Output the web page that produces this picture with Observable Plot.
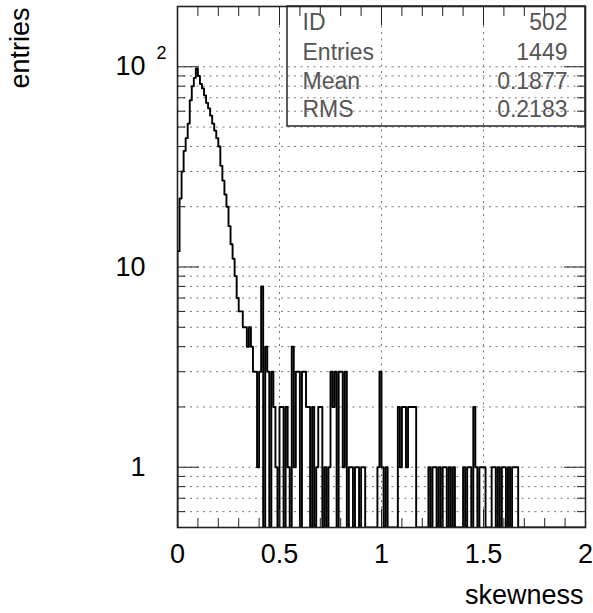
<!DOCTYPE html>
<html><head><meta charset="utf-8">
<script src="https://cdn.jsdelivr.net/npm/d3@7"></script>
<script src="https://cdn.jsdelivr.net/npm/@observablehq/plot@0.6"></script>
<style>body{margin:0;background:#fff}</style>
</head><body><div id="chart"></div>
<script>
// ---- data ----
const binStart = 0;
const binWidth = 0.01;
const counts = [
  12,22,30,38,44,52,68,80,88,98,
  90,82,78,72,66,62,57,52,48,44,
  40,32,27,23,20,16,13,11,9,7,
  6,6,5,5,4,5,4,3,3,1,
  3,8,0,4,3,0,3,2,1,0,
  2,2,0,2,1,0,4,1,3,3,
  0,3,3,2,2,0,2,0,1,2,
  2,0,1,0,1,3,2,3,0,3,
  3,1,3,0,1,1,0,1,1,0,
  1,1,0,0,0,0,0,0,1,3,
  1,0,1,0,0,0,0,0,2,1,
  2,2,1,2,2,2,2,0,0,0,
  0,0,0,1,0,1,1,0,1,0,
  1,1,0,1,0,1,0,0,0,0,
  1,0,1,1,0,2,1,0,1,1,
  1,0,0,0,1,1,0,1,0,1,
  1,0,1,0,1,1,1,0,0,0,
  0,0,0,0,0,0,0,0,0,0,
  0,0,0,0,0,0,0,0,0,0,
  0,0,0,0,0,0,0,0,0,0
];
const statLabels = ["ID", "Entries", "Mean", "RMS"];
const statValues = ["502", "1449", "0.1877", "0.2183"];
const xTickLabels = [0, 0.5, 1, 1.5, 2];
const xMinorTicks = [0.1,0.2,0.3,0.4,0.6,0.7,0.8,0.9,1.1,1.2,1.3,1.4,1.6,1.7,1.8,1.9];
const xGrid = [0.5, 1, 1.5];
const yTickLabels = [1, 10, 100];
const yMinorTicks = [0.6,0.7,0.8,0.9,2,3,4,5,6,7,8,9,20,30,40,50,60,70,80,90];
const yGrid = [0.6,0.7,0.8,0.9,1,2,3,4,5,6,7,8,9,10,20,30,40,50,60,70,80,90,100];
const yFloor = 0.5, yCeil = 200;

// ---- build step outline ----
const pts = [{x: binStart, y: yFloor}];
counts.forEach((c, i) => pts.push({x: binStart + i * binWidth, y: c > 0 ? c : yFloor}));
pts.push({x: binStart + counts.length * binWidth, y: counts[counts.length - 1] > 0 ? counts[counts.length - 1] : yFloor});

const FONT = "'Liberation Sans', Arial, Helvetica, sans-serif";
const gridStyle = {stroke: "#777", strokeOpacity: 1, strokeWidth: 1, strokeDasharray: "2,4.5"};
const rowDy = [16.5, 46, 75, 103.5];

const statMarks = [];
statLabels.forEach((s, i) => {
  statMarks.push(Plot.text([s], {text: d => d, frameAnchor: "top-left", dx: 125, dy: rowDy[i], textAnchor: "start", lineAnchor: "middle", fontSize: 23, fill: "#555"}));
  statMarks.push(Plot.text([statValues[i]], {text: d => d, frameAnchor: "top-right", dx: -18, dy: rowDy[i], textAnchor: "end", lineAnchor: "middle", fontSize: 23, fill: "#555"}));
});

const statBox = (index, scales, values, dims) => {
  const w = 298, h = 120;
  return d3.create("svg:rect")
    .attr("x", dims.width - dims.marginRight - w)
    .attr("y", dims.marginTop)
    .attr("width", w).attr("height", h)
    .attr("fill", "none").attr("stroke", "#333").attr("stroke-width", 1.6)
    .node();
};

const plot = Plot.plot({
  width: 593, height: 613,
  marginLeft: 177, marginRight: 8, marginTop: 6, marginBottom: 86,
  style: {fontFamily: FONT, background: "#fff", color: "#000", overflow: "visible"},
  x: {domain: [0, 2], axis: null, label: null},
  y: {type: "log", domain: [yFloor, yCeil], axis: null, label: null},
  marks: [
    Plot.gridX(xGrid, gridStyle),
    Plot.gridY(yGrid, gridStyle),
    Plot.line(pts, {x: "x", y: "y", curve: "step-after", stroke: "#000", strokeWidth: 1.9, clip: true}),
    // inward ticks
    Plot.axisX(xMinorTicks, {anchor: "bottom", tickSize: -9, fill: "none", label: null, stroke: "#222"}),
    Plot.axisX(xMinorTicks, {anchor: "top", tickSize: -9, fill: "none", label: null, stroke: "#222"}),
    Plot.axisX(xTickLabels, {anchor: "bottom", tickSize: -18, fill: "none", label: null, stroke: "#222"}),
    Plot.axisX(xTickLabels, {anchor: "top", tickSize: -18, fill: "none", label: null, stroke: "#222"}),
    Plot.axisY(yMinorTicks, {anchor: "left", tickSize: -8, fill: "none", label: null, stroke: "#222"}),
    Plot.axisY(yMinorTicks, {anchor: "right", tickSize: -9, fill: "none", label: null, stroke: "#222"}),
    Plot.axisY(yTickLabels, {anchor: "left", tickSize: -22, fill: "none", label: null, stroke: "#222"}),
    Plot.axisY(yTickLabels, {anchor: "right", tickSize: -22, fill: "none", label: null, stroke: "#222"}),
    // labels
    Plot.axisX(xTickLabels, {anchor: "bottom", tickSize: 0, tickPadding: 16, fontSize: 27, label: null, tickFormat: d => String(d)}),
    Plot.axisY(yTickLabels, {anchor: "left", tickSize: 0, tickPadding: 32, fontSize: 27, label: null, tickFormat: d => (d === 100 ? "10" : String(d))}),
    Plot.text(["2"], {text: d => d, y: [100], frameAnchor: "left", dx: -16, dy: -14, textAnchor: "middle", fontSize: 18}),
    Plot.text(["entries"], {text: d => d, frameAnchor: "top-left", rotate: -90, textAnchor: "end", lineAnchor: "middle", dx: -157, dy: 1, fontSize: 27}),
    Plot.text(["skewness"], {text: d => d, frameAnchor: "bottom-right", textAnchor: "end", lineAnchor: "middle", dx: -2, dy: 68, fontSize: 27}),
    statBox,
    ...statMarks,
    Plot.frame({stroke: "#222", strokeWidth: 1.6})
  ]
});
document.getElementById("chart").appendChild(plot);
</script>
</body></html>
